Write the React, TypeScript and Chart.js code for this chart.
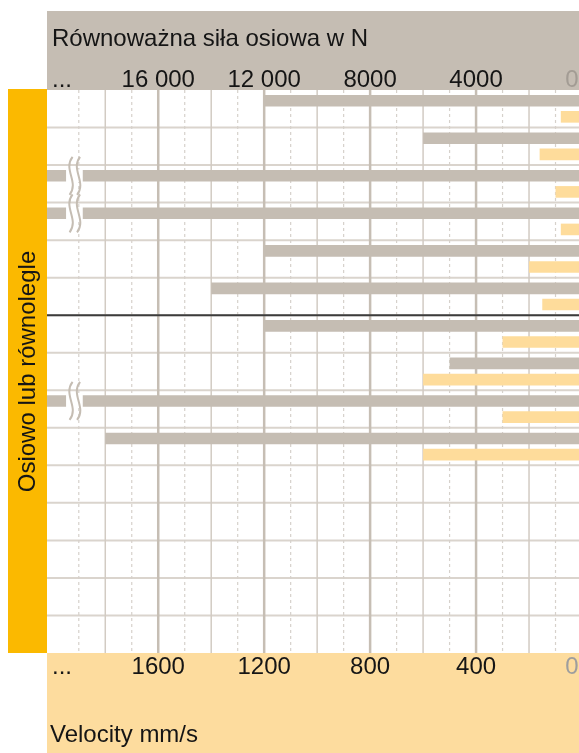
import React, { useEffect, useRef } from 'react';
import { Chart, registerables } from 'chart.js';

Chart.register(...registerables);

// ---- data ----
const rowLabels = ['1', '2', '3', '4', '5', '6', '7', '8', '9', '10', '11', '12', '13', '14', '15'];
// Equivalent axial force in N (values above the axis maximum are drawn with a break mark)
const forceN = [12000, 6000, 25000, 25000, 12000, 14000, 12000, 5000, 25000, 18000, null, null, null, null, null];
// Velocity in mm/s
const velocityMmS = [80, 160, 100, 80, 200, 150, 300, 600, 300, 600, null, null, null, null, null];

const forceTickValues = [16000, 12000, 8000, 4000, 0];
const forceTickLabels = ['16 000', '12 000', '8000', '4000', '0'];
const velocityTickValues = [1600, 1200, 800, 400, 0];
const velocityTickLabels = ['1600', '1200', '800', '400', '0'];

const FORCE_MAX = 20200;
const VELOCITY_MAX = 2020;
const VELOCITY_GRID_STEP = 100;
const VELOCITY_GRID_LAST = 1900;
const FORCE_BREAK = [19480, 18850];
const SEPARATOR_AFTER_ROW = 6;

const headerTitle = 'Równoważna siła osiowa w N';
const footerTitle = 'Velocity mm/s';
const sideTitle = 'Osiowo lub równolegle';

const GRAY = '#c5bdb3';
const LIGHT_ORANGE = '#fedc9b';
const FOOTER_ORANGE = '#fddc9e';
const BAND_ORANGE = '#fbb900';
const FONT = '"Liberation Sans", Arial, Helvetica, sans-serif';

const decorPlugin = {
  id: 'decor',
  beforeDraw(chart: any) {
    const ctx = chart.ctx;
    const { left, top, bottom } = chart.chartArea;
    ctx.save();
    ctx.fillStyle = '#ffffff';
    ctx.fillRect(0, 0, chart.width, chart.height);
    ctx.fillStyle = GRAY;
    ctx.fillRect(left, 11, chart.width - left, top - 11);
    ctx.fillStyle = BAND_ORANGE;
    ctx.fillRect(8, top - 1, left - 8, bottom - top + 1);
    ctx.fillStyle = FOOTER_ORANGE;
    ctx.fillRect(left, bottom, chart.width - left, chart.height - bottom);
    ctx.restore();
  },
  beforeDatasetsDraw(chart: any) {
    const ctx = chart.ctx;
    const { left, right, top, bottom } = chart.chartArea;
    const xV = chart.scales.xV;
    const y = chart.scales.y;
    ctx.save();
    ctx.beginPath();
    ctx.rect(left, top, right - left, bottom - top);
    ctx.clip();
    // horizontal row lines
    const n = rowLabels.length;
    const centers = rowLabels.map((_, i) => y.getPixelForValue(i));
    const bounds: number[] = [];
    for (let i = 1; i < n; i++) bounds.push((centers[i - 1] + centers[i]) / 2);
    ctx.strokeStyle = '#dad4cd';
    ctx.lineWidth = 2;
    bounds.forEach((b) => {
      ctx.beginPath();
      ctx.moveTo(left, b);
      ctx.lineTo(right, b);
      ctx.stroke();
    });
    // vertical lines
    for (let v = 0; v <= VELOCITY_GRID_LAST; v += VELOCITY_GRID_STEP) {
      const px = xV.getPixelForValue(v);
      ctx.beginPath();
      if (v % 400 === 0) {
        ctx.setLineDash([]);
        ctx.strokeStyle = '#c6beb4';
        ctx.lineWidth = 2.5;
      } else if (v % 200 === 0) {
        ctx.setLineDash([]);
        ctx.strokeStyle = '#d2cbc3';
        ctx.lineWidth = 1.5;
      } else {
        ctx.setLineDash([3, 3]);
        ctx.strokeStyle = '#d6d1cb';
        ctx.lineWidth = 1.2;
      }
      ctx.moveTo(px, top);
      ctx.lineTo(px, bottom);
      ctx.stroke();
    }
    ctx.setLineDash([]);
    // separator
    const sep = bounds[SEPARATOR_AFTER_ROW - 1];
    ctx.strokeStyle = '#3c3c3c';
    ctx.lineWidth = 2;
    ctx.beginPath();
    ctx.moveTo(left, sep);
    ctx.lineTo(right, sep);
    ctx.stroke();
    ctx.restore();
  },
  afterDatasetsDraw(chart: any) {
    const ctx = chart.ctx;
    const xF = chart.scales.xF;
    const meta = chart.getDatasetMeta(0);
    ctx.save();
    forceN.forEach((v, i) => {
      if (v == null || v <= FORCE_MAX) return;
      const el = meta.data[i];
      if (!el) return;
      const x0 = xF.getPixelForValue(FORCE_BREAK[0]);
      const x1 = xF.getPixelForValue(FORCE_BREAK[1]);
      const h = el.height;
      ctx.fillStyle = '#ffffff';
      ctx.fillRect(x0, el.y - h / 2 - 0.5, x1 - x0, h + 1);
      const half = 19;
      const a = 4.2;
      [x0 + 5, x0 + 12.5].forEach((cx) => {
        ctx.strokeStyle = GRAY;
        ctx.lineWidth = 2;
        ctx.beginPath();
        ctx.moveTo(cx + 1.5, el.y - half);
        ctx.bezierCurveTo(cx - 2 * a, el.y - half / 3, cx + 2 * a, el.y + half / 3, cx - 1.5, el.y + half);
        ctx.stroke();
      });
    });
    ctx.restore();
  },
  afterDraw(chart: any) {
    const ctx = chart.ctx;
    const { left, top, bottom } = chart.chartArea;
    const xF = chart.scales.xF;
    const xV = chart.scales.xV;
    ctx.save();
    ctx.font = `24px ${FONT}`;
    ctx.textBaseline = 'alphabetic';
    // header title
    ctx.fillStyle = '#151515';
    ctx.textAlign = 'left';
    ctx.fillText(headerTitle, 52, 46);
    // top ticks
    ctx.fillText('...', 52, 87);
    ctx.textAlign = 'center';
    forceTickValues.forEach((v, i) => {
      let px = xF.getPixelForValue(v);
      if (v === 0) {
        px = Math.min(px, 572);
        ctx.fillStyle = '#a39c94';
      } else ctx.fillStyle = '#151515';
      ctx.fillText(forceTickLabels[i], px, 87);
    });
    // bottom ticks
    ctx.fillStyle = '#151515';
    ctx.textAlign = 'left';
    ctx.fillText('...', 52, 674);
    ctx.textAlign = 'center';
    velocityTickValues.forEach((v, i) => {
      let px = xV.getPixelForValue(v);
      if (v === 0) {
        px = Math.min(px, 572);
        ctx.fillStyle = '#9e9e9e';
      } else ctx.fillStyle = '#151515';
      ctx.fillText(velocityTickLabels[i], px, 674);
    });
    // footer title
    ctx.fillStyle = '#151515';
    ctx.textAlign = 'left';
    ctx.fillText(footerTitle, 50, 742);
    // side title
    ctx.translate((8 + left) / 2, (top + bottom) / 2);
    ctx.rotate(-Math.PI / 2);
    ctx.textAlign = 'center';
    ctx.textBaseline = 'middle';
    ctx.font = `24px ${FONT}`;
    ctx.fillText(sideTitle, 0, 1);
    ctx.restore();
  },
};

export default function App() {
  const canvasRef = useRef<HTMLCanvasElement | null>(null);

  useEffect(() => {
    const canvas = canvasRef.current;
    if (!canvas) return;
    const chart = new Chart(canvas, {
      type: 'bar',
      data: {
        labels: rowLabels,
        datasets: [
          {
            label: 'Równoważna siła osiowa w N',
            data: forceN as any,
            xAxisID: 'xF',
            backgroundColor: GRAY,
            borderWidth: 0,
            categoryPercentage: 0.86,
            barPercentage: 0.72,
          },
          {
            label: 'Velocity mm/s',
            data: velocityMmS as any,
            xAxisID: 'xV',
            backgroundColor: LIGHT_ORANGE,
            borderWidth: 0,
            categoryPercentage: 0.86,
            barPercentage: 0.72,
          },
        ],
      },
      options: {
        indexAxis: 'y',
        animation: false,
        responsive: false,
        maintainAspectRatio: false,
        devicePixelRatio: 1,
        layout: { padding: { left: 47, right: 8, top: 90, bottom: 100 } },
        plugins: { legend: { display: false }, tooltip: { enabled: false } },
        scales: {
          y: { type: 'category', display: false, offset: true },
          xF: { type: 'linear', display: false, reverse: true, min: 0, max: FORCE_MAX, position: 'top' },
          xV: { type: 'linear', display: false, reverse: true, min: 0, max: VELOCITY_MAX, position: 'bottom' },
        },
      },
      plugins: [decorPlugin],
    });
    return () => chart.destroy();
  }, []);

  return (
    <div style={{ position: 'fixed', left: 0, top: 0, width: 579, height: 753, overflow: 'hidden' }}>
      <canvas ref={canvasRef} width={590} height={753} style={{ width: 590, height: 753, display: 'block' }} />
    </div>
  );
}
